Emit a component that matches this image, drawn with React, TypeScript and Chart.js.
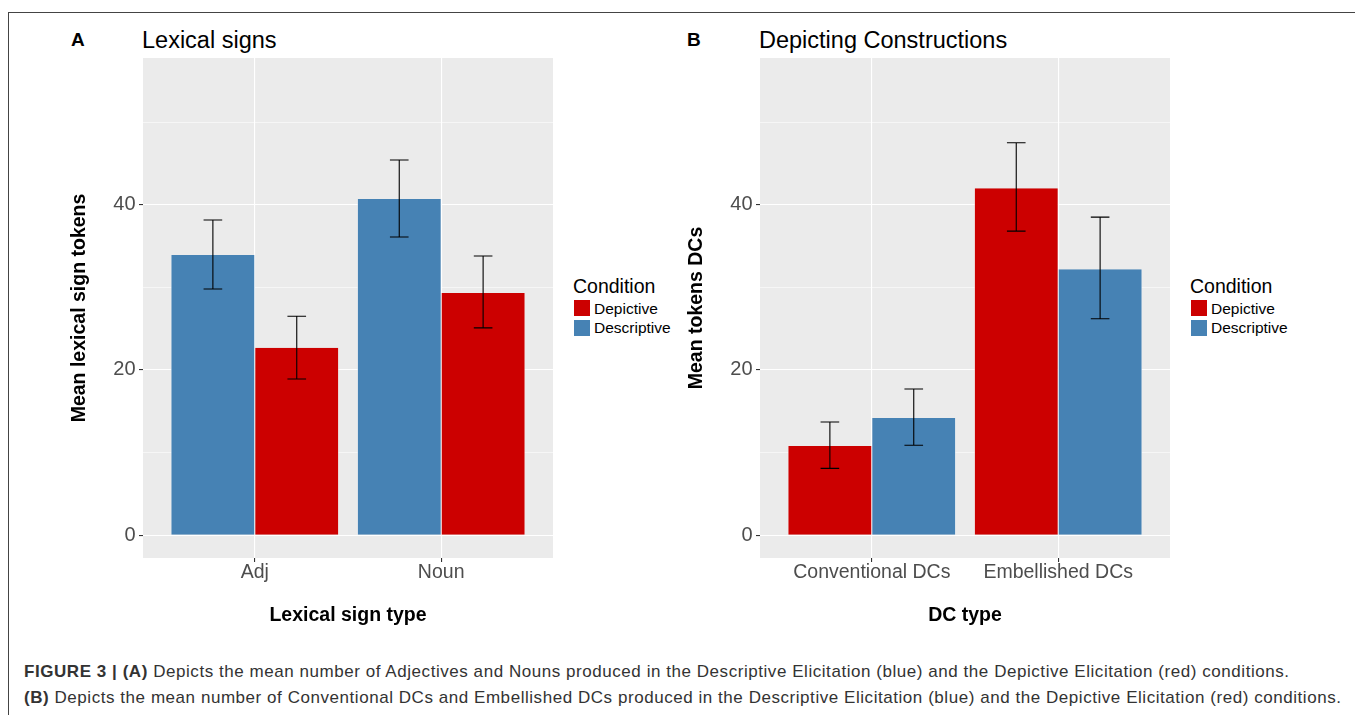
import React, { useEffect, useRef } from 'react';
import { Chart, registerables } from 'chart.js';

Chart.register(...registerables);

// ---------- data ----------
const categoriesA = ['Adj', 'Noun'];
const descriptiveA = [33.9, 40.7];
const descriptiveALow = [29.8, 36.1];
const descriptiveAHigh = [38.15, 45.4];
const depictiveA = [22.7, 29.3];
const depictiveALow = [18.9, 25.1];
const depictiveAHigh = [26.5, 33.8];

const categoriesB = ['Conventional DCs', 'Embellished DCs'];
const depictiveB = [10.8, 42.0];
const depictiveBLow = [8.1, 36.8];
const depictiveBHigh = [13.7, 47.5];
const descriptiveB = [14.2, 32.2];
const descriptiveBLow = [10.9, 26.2];
const descriptiveBHigh = [17.7, 38.5];

const categoryPositions = [1, 2];
const yMajorTicks = [0, 20, 40];
const yMinorTicks = [10, 30, 50];
const legendLabels = ['Depictive', 'Descriptive'];

const RED = '#CC0000';
const BLUE = '#4682B4';
const FONT = "'Liberation Sans', Arial, Helvetica, sans-serif";

// ---------- plugins ----------
const panelBackground = {
  id: 'panelBackground',
  beforeDraw(chart: any) {
    const { ctx, chartArea } = chart;
    ctx.save();
    ctx.fillStyle = '#EBEBEB';
    ctx.fillRect(chartArea.left, chartArea.top, chartArea.right - chartArea.left, chartArea.bottom - chartArea.top);
    ctx.restore();
  },
};

const errorBars = {
  id: 'errorBars',
  afterDatasetsDraw(chart: any) {
    const { ctx } = chart;
    const xs = chart.scales.x;
    const ys = chart.scales.y;
    const half = (xs.getPixelForValue(0.1) - xs.getPixelForValue(0)) / 2;
    ctx.save();
    ctx.strokeStyle = '#000';
    ctx.lineWidth = 1.1;
    chart.data.datasets.forEach((ds: any, i: number) => {
      const meta = chart.getDatasetMeta(i);
      meta.data.forEach((bar: any, j: number) => {
        const x = bar.x;
        const yl = ys.getPixelForValue(ds.errLow[j]);
        const yh = ys.getPixelForValue(ds.errHigh[j]);
        ctx.beginPath();
        ctx.moveTo(x, yh);
        ctx.lineTo(x, yl);
        ctx.moveTo(x - half, yh);
        ctx.lineTo(x + half, yh);
        ctx.moveTo(x - half, yl);
        ctx.lineTo(x + half, yl);
        ctx.stroke();
      });
    });
    ctx.restore();
  },
};

type SeriesDef = { label: string; values: number[]; low: number[]; high: number[]; color: string };

function makeDataset(s: SeriesDef) {
  return {
    label: s.label,
    data: s.values.map((v, i) => ({ x: categoryPositions[i], y: v })),
    backgroundColor: s.color,
    borderColor: '#ffffff',
    borderWidth: { left: 0.5, right: 0.5, top: 0, bottom: 0 },
    categoryPercentage: 0.9,
    barPercentage: 1,
    errLow: s.low,
    errHigh: s.high,
  };
}

function Panel(props: {
  left: number;
  top: number;
  categories: string[];
  series: SeriesDef[];
  xTitle: string;
  yTitle: string;
}) {
  const ref = useRef<HTMLCanvasElement>(null);
  useEffect(() => {
    if (!ref.current) return;
    const cats = props.categories;
    const chart = new Chart(ref.current, {
      type: 'bar',
      data: { datasets: props.series.map(makeDataset) as any },
      options: {
        animation: false,
        responsive: false,
        devicePixelRatio: 1,
        events: [],
        layout: { padding: { top: 8, right: 7, left: 0, bottom: 0 } },
        plugins: { legend: { display: false }, tooltip: { enabled: false } },
        scales: {
          x: {
            type: 'linear',
            min: 0.4,
            max: 2.6,
            offset: false,
            afterBuildTicks: (s: any) => {
              s.ticks = categoryPositions.map((v) => ({ value: v }));
            },
            afterFit: (s: any) => {
              s.height = 72;
              s.paddingLeft = 0;
              s.paddingRight = 0;
            },
            ticks: {
              autoSkip: false,
              maxRotation: 0,
              color: '#4d4d4d',
              padding: 1.25,
              font: { family: FONT, size: 19.5, lineHeight: 1 },
              callback: (_v: any, i: number) => cats[i] ?? '',
            },
            grid: {
              offset: false,
              color: '#ffffff',
              lineWidth: 1.1,
              tickColor: '#333333',
              tickLength: 4,
              tickWidth: 1.1,
            },
            border: { display: false },
            title: {
              display: true,
              text: props.xTitle,
              color: '#000',
              font: { family: FONT, size: 19.5, weight: 'bold', lineHeight: 1.2 },
              padding: { top: 0, bottom: 3 },
            },
          },
          y: {
            type: 'linear',
            min: -2.75,
            max: 57.75,
            afterBuildTicks: (s: any) => {
              s.ticks = [...yMajorTicks, ...yMinorTicks].sort((a, b) => a - b).map((v) => ({ value: v }));
            },
            afterFit: (s: any) => {
              s.width = 83;
              s.paddingTop = 0;
              s.paddingBottom = 0;
            },
            ticks: {
              color: '#4d4d4d',
              padding: 3.5,
              font: { family: FONT, size: 20, lineHeight: 1 },
              callback: (v: any) => (yMajorTicks.includes(v) ? String(v) : ''),
            },
            grid: {
              color: '#ffffff',
              lineWidth: (c: any) => (yMajorTicks.includes(c.tick?.value) ? 1.1 : 0.55),
              tickColor: (c: any) => (yMajorTicks.includes(c.tick?.value) ? '#333333' : 'rgba(0,0,0,0)'),
              tickLength: 4,
              tickWidth: 1.1,
            },
            border: { display: false },
            title: {
              display: true,
              text: props.yTitle,
              color: '#000',
              font: { family: FONT, size: 19.5, weight: 'bold', lineHeight: 1.2 },
              padding: { top: 8.3, bottom: 0 },
            },
          },
        },
      } as any,
      plugins: [panelBackground, errorBars],
    });
    return () => chart.destroy();
  }, []);
  return (
    <canvas
      ref={ref}
      width={500}
      height={580}
      style={{ position: 'absolute', left: props.left, top: props.top, width: 500, height: 580, display: 'block' }}
    />
  );
}

function Txt(props: {
  x: number;
  baseline: number;
  size: number;
  bold?: boolean;
  color?: string;
  spacing?: number;
  children: any;
}) {
  return (
    <div
      style={{
        position: 'absolute',
        left: props.x,
        top: props.baseline - 0.8465 * props.size,
        fontSize: props.size,
        lineHeight: `${props.size}px`,
        fontWeight: props.bold ? 'bold' : 'normal',
        color: props.color ?? '#000',
        fontFamily: FONT,
        letterSpacing: props.spacing ? `${props.spacing}px` : undefined,
        whiteSpace: 'nowrap',
      }}
    >
      {props.children}
    </div>
  );
}

function Legend(props: { x: number }) {
  const colors = [RED, BLUE];
  return (
    <>
      <Txt x={props.x} baseline={294} size={19.5}>Condition</Txt>
      {legendLabels.map((l, i) => (
        <React.Fragment key={l}>
          <div
            style={{
              position: 'absolute',
              left: props.x + 1,
              top: 300 + i * 19.5,
              width: 16,
              height: 16,
              background: colors[i],
            }}
          />
          <Txt x={props.x + 21} baseline={314 + i * 19.3} size={15.5}>{l}</Txt>
        </React.Fragment>
      ))}
    </>
  );
}

export default function App() {
  const seriesA: SeriesDef[] = [
    { label: 'Descriptive', values: descriptiveA, low: descriptiveALow, high: descriptiveAHigh, color: BLUE },
    { label: 'Depictive', values: depictiveA, low: depictiveALow, high: depictiveAHigh, color: RED },
  ];
  const seriesB: SeriesDef[] = [
    { label: 'Depictive', values: depictiveB, low: depictiveBLow, high: depictiveBHigh, color: RED },
    { label: 'Descriptive', values: descriptiveB, low: descriptiveBLow, high: descriptiveBHigh, color: BLUE },
  ];
  return (
    <div
      style={{
        position: 'fixed',
        left: 0,
        top: 0,
        width: 1355,
        height: 715,
        background: '#ffffff',
        overflow: 'hidden',
        fontFamily: FONT,
      }}
    >
      <div
        style={{
          position: 'absolute',
          left: 8,
          top: 12,
          width: 1400,
          height: 800,
          borderTop: '1px solid #444',
          borderLeft: '1px solid #444',
        }}
      />
      <Txt x={71} baseline={46} size={19} bold>A</Txt>
      <Txt x={142} baseline={49} size={23.5}>Lexical signs</Txt>
      <Txt x={687} baseline={46} size={19} bold>B</Txt>
      <Txt x={759} baseline={49} size={23.5}>Depicting Constructions</Txt>

      <Panel left={60} top={50} categories={categoriesA} series={seriesA} xTitle="Lexical sign type" yTitle="Mean lexical sign tokens" />
      <Panel left={677} top={50} categories={categoriesB} series={seriesB} xTitle="DC type" yTitle="Mean tokens DCs" />

      <Legend x={573} />
      <Legend x={1190} />

      <Txt x={24} baseline={677} size={17} color="#333" spacing={0.55}>
        <b>FIGURE 3 | (A)</b> Depicts the mean number of Adjectives and Nouns produced in the Descriptive Elicitation (blue) and the Depictive Elicitation (red) conditions.
      </Txt>
      <Txt x={24} baseline={703} size={17} color="#333" spacing={0.55}>
        <b>(B)</b> Depicts the mean number of Conventional DCs and Embellished DCs produced in the Descriptive Elicitation (blue) and the Depictive Elicitation (red) conditions.
      </Txt>
    </div>
  );
}
